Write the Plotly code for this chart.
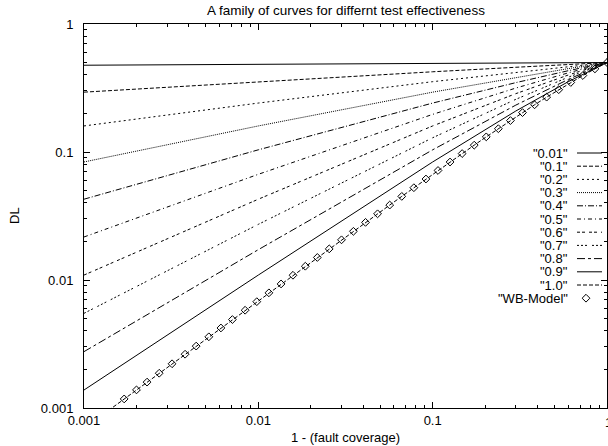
import plotly.graph_objects as go

# ---------------- data ----------------
x_grid = [0.001, 0.01, 0.1, 0.3, 0.6, 1.0]
curve_labels = ['"0.01"', '"0.1"', '"0.2"', '"0.3"', '"0.4"', '"0.5"',
                '"0.6"', '"0.7"', '"0.8"', '"0.9"']
dl_001 = [0.4763, 0.4841, 0.4920, 0.4958, 0.4982, 0.5]
dl_01 = [0.2935, 0.3543, 0.4234, 0.4591, 0.4824, 0.5]
dl_02 = [0.1598, 0.2412, 0.3543, 0.4201, 0.4652, 0.5]
dl_03 = [0.0836, 0.1598, 0.2935, 0.3831, 0.4483, 0.5]
dl_04 = [0.04279, 0.1040, 0.2412, 0.3483, 0.4317, 0.5]
dl_05 = [0.02168, 0.06697, 0.1968, 0.3159, 0.4154, 0.5]
dl_06 = [0.01093, 0.04279, 0.1598, 0.2857, 0.3996, 0.5]
dl_07 = [0.005491, 0.02722, 0.1292, 0.2580, 0.3842, 0.5]
dl_08 = [0.002756, 0.01726, 0.1040, 0.2325, 0.3691, 0.5]
dl_09 = [0.001382, 0.01093, 0.0836, 0.2091, 0.3545, 0.5]

wb_x = [0.0017, 0.0020, 0.0023, 0.0027, 0.0032, 0.0038, 0.0044, 0.0052, 0.0061,
        0.0071, 0.0084, 0.0098, 0.0115, 0.0135, 0.0158, 0.0186, 0.0218, 0.0255,
        0.0300, 0.0351, 0.0412, 0.0483, 0.0567, 0.0665, 0.0780, 0.0915, 0.1073,
        0.1258, 0.1476, 0.1731, 0.2030, 0.2381, 0.2793, 0.3276, 0.3842, 0.4506,
        0.5285, 0.6198, 0.7270, 0.8526, 1.0]
wb_y = [0.001177, 0.001385, 0.001593, 0.001869, 0.002216, 0.002631, 0.003045,
        0.003598, 0.004219, 0.004909, 0.005805, 0.006770, 0.007939, 0.009314,
        0.01089, 0.01281, 0.0150, 0.0175, 0.0206, 0.0240, 0.0282, 0.0329, 0.0385,
        0.0450, 0.0526, 0.0615, 0.0717, 0.0835, 0.0972, 0.1131, 0.1313, 0.1521,
        0.1760, 0.2031, 0.2338, 0.2683, 0.3067, 0.3492, 0.3958, 0.4462, 0.5]
line10_x = [0.001] + wb_x
line10_y = [0.000693] + wb_y

x_tick_vals = [0.001, 0.01, 0.1, 1]
x_tick_text = ["0.001", "0.01", "0.1", "1"]
y_tick_vals = [0.001, 0.01, 0.1, 1]
y_tick_text = ["0.001", "0.01", "0.1", "1"]

# ---------------- styles ----------------
FONT = "Liberation Sans, Arial, Helvetica, sans-serif"
dashes = ["solid", "4px,2px", "2px,3px", "1px,1px", "6px,2px,1px,2px",
          "4px,3px,1px,3px", "3px,2px,3px,4px", "2px,2px,2px,2px,2px,5px",
          "8px,3px,3px,3px", "solid"]
dash_10 = "4px,2px"

series = [dl_001, dl_01, dl_02, dl_03, dl_04, dl_05, dl_06, dl_07, dl_08, dl_09]

fig = go.Figure()
for ys, d in zip(series, dashes):
    fig.add_trace(go.Scatter(x=x_grid, y=ys, mode="lines",
                             line=dict(color="black", width=1, dash=d),
                             showlegend=False, hoverinfo="skip"))
fig.add_trace(go.Scatter(x=line10_x, y=line10_y, mode="lines",
                         line=dict(color="black", width=1, dash=dash_10),
                         showlegend=False, hoverinfo="skip"))
fig.add_trace(go.Scatter(x=wb_x, y=wb_y, mode="markers",
                         marker=dict(symbol="diamond-open", size=6,
                                     color="black", line=dict(width=1)),
                         showlegend=False, hoverinfo="skip"))

# ---------------- gnuplot-style key (manual) ----------------
L, T, W, H = 84, 24, 523, 384
def px(x):
    return (x - L) / W
def py(y):
    return (T + H - y) / H

key_labels = curve_labels + ['"1.0"', '"WB-Model"']
key_dashes = dashes + [dash_10, None]
annotations = []
for k, (lab, d) in enumerate(zip(key_labels, key_dashes)):
    yy = py(153 + 13.2 * k)
    annotations.append(dict(x=px(570), y=yy, xref="paper", yref="paper",
                            text=lab, showarrow=False, xanchor="right",
                            yanchor="middle", font=dict(size=13, family=FONT, color="black")))
    if d is not None:
        fig.add_trace(go.Scatter(x=[px(577), px(602)], y=[yy, yy], mode="lines",
                                 xaxis="x2", yaxis="y2",
                                 line=dict(color="black", width=1, dash=d),
                                 showlegend=False, hoverinfo="skip"))
    else:
        fig.add_trace(go.Scatter(x=[px(586)], y=[yy], mode="markers",
                                 xaxis="x2", yaxis="y2",
                                 marker=dict(symbol="diamond-open", size=6,
                                             color="black", line=dict(width=1)),
                                 showlegend=False, hoverinfo="skip"))

annotations += [
    dict(x=0.5, y=py(11), xref="paper", yref="paper",
         text="A family of curves for differnt test effectiveness", showarrow=False,
         xanchor="center", yanchor="middle", font=dict(size=13.5, family=FONT, color="black")),
    dict(x=0.5, y=py(437), xref="paper", yref="paper", text="1 - (fault coverage)",
         showarrow=False, xanchor="center", yanchor="middle",
         font=dict(size=13, family=FONT, color="black")),
    dict(x=px(14), y=0.5, xref="paper", yref="paper", text="DL", textangle=-90,
         showarrow=False, xanchor="center", yanchor="middle",
         font=dict(size=13, family=FONT, color="black")),
    # last x tick label sits on the figure edge; plotly hides it, so draw it here
    dict(x=1.0, y=py(422), xref="paper", yref="paper", text=x_tick_text[-1],
         showarrow=False, xanchor="center", yanchor="middle", xshift=1,
         font=dict(size=13, family=FONT, color="black")),
]

def minor_vals():
    out = []
    for dec in [0.001, 0.01, 0.1]:
        for m in range(2, 10):
            out.append(round(dec * m, 6))
    return out

axis_common = dict(type="log", range=[-3, 0], showgrid=False, zeroline=False,
                   showline=True, linecolor="black", linewidth=1, mirror="ticks",
                   ticks="inside", ticklen=6, tickwidth=1, tickcolor="black",
                   tickfont=dict(size=13, family=FONT, color="black"),
                   minor=dict(ticks="inside", ticklen=3, tickwidth=1,
                              tickcolor="black", tickvals=minor_vals(), showgrid=False))

fig.update_layout(
    width=608, height=446,
    margin=dict(l=L, r=608 - L - W, t=T, b=446 - T - H, pad=0),
    paper_bgcolor="white", plot_bgcolor="white",
    xaxis=dict(axis_common, tickvals=x_tick_vals[:-1], ticktext=x_tick_text[:-1]),
    yaxis=dict(axis_common, tickvals=y_tick_vals, ticktext=y_tick_text,
               ticklabelstandoff=7),
    xaxis2=dict(overlaying="x", range=[0, 1], visible=False),
    yaxis2=dict(overlaying="y", range=[0, 1], visible=False),
    annotations=annotations,
    showlegend=False,
    font=dict(family=FONT, color="black"),
)
# keep the major tick mark at x = 1 as well
fig.update_xaxes(selector=dict(type="log"), tickvals=x_tick_vals,
                 ticktext=x_tick_text[:-1] + [""])

fig.write_html("out.html", config={"displayModeBar": False, "staticPlot": True})
with open("out.html", "r", encoding="utf-8") as f:
    html = f.read()
html = html.replace("<head>", "<head><style>html,body{margin:0;padding:0;overflow:hidden;}</style>", 1)
with open("out.html", "w", encoding="utf-8") as f:
    f.write(html)
